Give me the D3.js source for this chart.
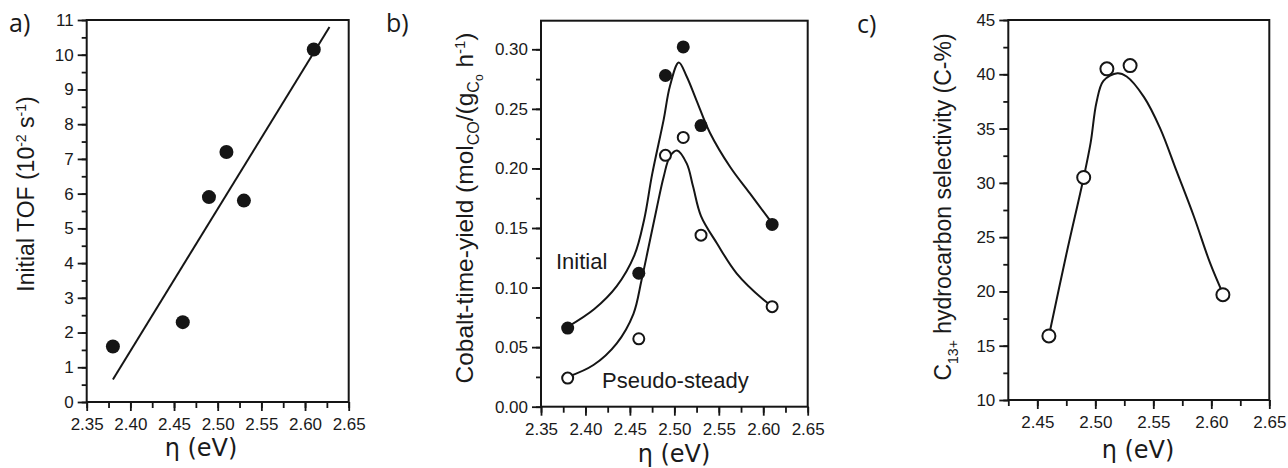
<!DOCTYPE html>
<html>
<head>
<meta charset="utf-8">
<title>TOF, cobalt-time-yield and C13+ selectivity vs eta</title>
<script src="https://d3js.org/d3.v7.min.js"></script>
<style>
body { margin: 0; background: #fff; }
svg text { font-family: Arial, "Liberation Sans", Helvetica, sans-serif; fill: #1a1a1a; }
.xtitle { font-family: "DejaVu Sans", Verdana, sans-serif; font-size: 24px; }
.plabel { font-family: "Open Sans", sans-serif; font-size: 25px; }
.note { font-size: 22px; }
</style>
</head>
<body>
<svg id="chart" width="1288" height="468"></svg>
<script>
// ---- panel a : initial TOF ----
var etaA = [2.38, 2.46, 2.49, 2.51, 2.53, 2.61];
var tofA = [1.6, 2.3, 5.9, 7.2, 5.8, 10.15];
var fitEtaA = [2.38, 2.628];
var fitTofA = [0.65, 10.8];
var xTicksA = [2.35, 2.40, 2.45, 2.50, 2.55, 2.60, 2.65];
var yTicksA = [0, 1, 2, 3, 4, 5, 6, 7, 8, 9, 10, 11];

// ---- panel b : cobalt-time-yield ----
var etaB = [2.38, 2.46, 2.49, 2.51, 2.53, 2.61];
var ctyInitial = [0.066, 0.112, 0.278, 0.302, 0.236, 0.153];
var ctyPseudo = [0.024, 0.057, 0.211, 0.226, 0.144, 0.084];
var curveEtaInitial = [2.38, 2.41, 2.435, 2.455, 2.466, 2.475, 2.488, 2.495, 2.505, 2.514, 2.525, 2.54, 2.563, 2.585, 2.607];
var curveInitial    = [0.067, 0.082, 0.101, 0.127, 0.157, 0.195, 0.241, 0.269, 0.289, 0.277, 0.257, 0.230, 0.201, 0.179, 0.157];
var curveEtaPseudo = [2.38, 2.409, 2.435, 2.454, 2.463, 2.471, 2.48, 2.488, 2.495, 2.503, 2.514, 2.521, 2.53, 2.548, 2.57, 2.60, 2.609];
var curvePseudo    = [0.025, 0.035, 0.053, 0.078, 0.106, 0.134, 0.166, 0.193, 0.210, 0.215, 0.204, 0.185, 0.160, 0.137, 0.112, 0.090, 0.085];
var xTicksB = [2.35, 2.40, 2.45, 2.50, 2.55, 2.60, 2.65];
var yTicksB = [0.00, 0.05, 0.10, 0.15, 0.20, 0.25, 0.30];

// ---- panel c : C13+ selectivity ----
var etaC = [2.46, 2.49, 2.51, 2.53, 2.61];
var selC = [15.9, 30.5, 40.5, 40.8, 19.7];
var curveEtaC = [2.46, 2.475, 2.49, 2.496, 2.501, 2.507, 2.519, 2.527, 2.542, 2.556, 2.570, 2.585, 2.599, 2.61];
var curveSelC = [15.9, 23.4, 30.5, 33.7, 37.4, 39.4, 40.1, 39.8, 37.9, 35.0, 31.1, 26.9, 22.6, 19.8];
var xTicksC = [2.45, 2.50, 2.55, 2.60, 2.65];
var yTicksC = [10, 15, 20, 25, 30, 35, 40, 45];

var ink = "#151515";
var tickFont = 'Arial, "Liberation Sans", Helvetica, sans-serif';
var svg = d3.select("#chart");

function zip(xs, ys) { return xs.map(function (x, i) { return [x, ys[i]]; }); }

// writes text with sub/superscript pieces: [string, shift(px, +down), size]
function richText(g, parts) {
  var cur = 0;
  parts.forEach(function (p) {
    var shift = p[1] || 0;
    g.append("tspan")
      .attr("dy", shift - cur)
      .style("font-size", p[2] ? p[2] + "px" : null)
      .text(p[0]);
    cur = shift;
  });
}

function styleAxis(a) {
  a.select(".domain").remove();
  a.attr("font-size", 17).attr("font-family", tickFont);
}

function panel(cfg) {
  var x = d3.scaleLinear().domain(cfg.xDomain).range([cfg.left, cfg.right]);
  var y = d3.scaleLinear().domain(cfg.yDomain).range([cfg.bottom, cfg.top]);
  var g = svg.append("g");

  // minor ticks
  g.append("g").attr("transform", "translate(0," + cfg.bottom + ")")
    .call(d3.axisBottom(x).tickValues(cfg.xMinor).tickSize(6).tickFormat(""))
    .call(styleAxis);
  g.append("g").attr("transform", "translate(" + cfg.left + ",0)")
    .call(d3.axisLeft(y).tickValues(cfg.yMinor).tickSize(5).tickFormat(""))
    .call(styleAxis);

  // major ticks with labels
  g.append("g").attr("transform", "translate(0," + cfg.bottom + ")")
    .call(d3.axisBottom(x).tickValues(cfg.xTicks).tickSize(9).tickPadding(7).tickFormat(d3.format(".2f")))
    .call(styleAxis);
  g.append("g").attr("transform", "translate(" + cfg.left + ",0)")
    .call(d3.axisLeft(y).tickValues(cfg.yTicks).tickSize(9).tickPadding(cfg.yPad).tickFormat(d3.format(cfg.yFmt)))
    .call(styleAxis);

  g.selectAll(".tick line").attr("stroke", ink).attr("stroke-width", 1.8);
  g.selectAll(".tick text").attr("fill", "#1a1a1a");

  // frame
  g.append("rect")
    .attr("x", cfg.left).attr("y", cfg.top)
    .attr("width", cfg.right - cfg.left).attr("height", cfg.bottom - cfg.top)
    .attr("fill", "none").attr("stroke", ink).attr("stroke-width", 2);

  // x title
  g.append("text").attr("class", "xtitle")
    .attr("x", cfg.xTitleX).attr("y", cfg.xTitleY)
    .attr("text-anchor", "middle").text("η (eV)");

  // y title
  var yt = g.append("text")
    .attr("text-anchor", "middle")
    .style("font-size", cfg.yTitleSize + "px")
    .attr("transform", "translate(" + cfg.yTitleX + "," + cfg.yTitleY + ") rotate(-90)");
  richText(yt, cfg.yTitle);

  // panel letter
  g.append("text").attr("class", "plabel")
    .attr("x", cfg.labelX).attr("y", cfg.labelY).text(cfg.label);

  return { g: g, x: x, y: y };
}

function minorTicks(a, b, s) {
  return d3.range(0, Math.round((b - a) / s) + 1).map(function (i) { return +(a + i * s).toFixed(4); });
}

// ---------- a ----------
var pa = panel({
  left: 86.7, right: 348.7, top: 20, bottom: 402,
  xDomain: [2.35, 2.65], yDomain: [0, 11],
  xTicks: xTicksA, yTicks: yTicksA,
  xMinor: minorTicks(2.35, 2.65, 0.025), yMinor: minorTicks(0, 11, 0.5),
  yFmt: "d", yPad: 4,
  xTitleX: 201, xTitleY: 456,
  yTitleX: 34, yTitleY: 194, yTitleSize: 23,
  yTitle: [["Initial TOF (10"], ["-2", -8, 14], [" s", 0], ["-1", -8, 14], [")", 0]],
  label: "a)", labelX: 9, labelY: 32
});
var lineFn = function (sx, sy) {
  return d3.line().x(function (d) { return sx(d[0]); }).y(function (d) { return sy(d[1]); });
};
pa.g.append("path").datum(zip(fitEtaA, fitTofA))
  .attr("d", lineFn(pa.x, pa.y))
  .attr("fill", "none").attr("stroke", ink).attr("stroke-width", 2);
pa.g.selectAll(".dotA").data(zip(etaA, tofA)).enter().append("circle")
  .attr("cx", function (d) { return pa.x(d[0]); })
  .attr("cy", function (d) { return pa.y(d[1]); })
  .attr("r", 7).attr("fill", ink);

// ---------- b ----------
var pb = panel({
  left: 541, right: 807.7, top: 20.7, bottom: 406.7,
  xDomain: [2.35, 2.65], yDomain: [0, 0.324],
  xTicks: xTicksB, yTicks: yTicksB,
  xMinor: minorTicks(2.35, 2.65, 0.025), yMinor: minorTicks(0, 0.3, 0.025),
  yFmt: ".2f", yPad: 4,
  xTitleX: 674, xTitleY: 462,
  yTitleX: 473, yTitleY: 208, yTitleSize: 24.5,
  yTitle: [["Cobalt-time-yield (mol"], ["CO", 6, 16], ["/(g", 0], ["C", 6, 16], ["o", 10, 12], [" h", 0], ["-1", -8, 15], [")", 0]],
  label: "b)", labelX: 386, labelY: 32
});
var smooth = function (sx, sy) { return lineFn(sx, sy).curve(d3.curveCatmullRom.alpha(0.5)); };
pb.g.append("path").datum(zip(curveEtaInitial, curveInitial))
  .attr("d", smooth(pb.x, pb.y))
  .attr("fill", "none").attr("stroke", ink).attr("stroke-width", 2);
pb.g.append("path").datum(zip(curveEtaPseudo, curvePseudo))
  .attr("d", smooth(pb.x, pb.y))
  .attr("fill", "none").attr("stroke", ink).attr("stroke-width", 2);
pb.g.selectAll(".dotBi").data(zip(etaB, ctyInitial)).enter().append("circle")
  .attr("cx", function (d) { return pb.x(d[0]); })
  .attr("cy", function (d) { return pb.y(d[1]); })
  .attr("r", 6.5).attr("fill", ink);
pb.g.selectAll(".dotBp").data(zip(etaB, ctyPseudo)).enter().append("circle")
  .attr("cx", function (d) { return pb.x(d[0]); })
  .attr("cy", function (d) { return pb.y(d[1]); })
  .attr("r", 5.5).attr("fill", "#fff").attr("stroke", ink).attr("stroke-width", 2);
pb.g.append("text").attr("class", "note").attr("x", 556).attr("y", 269).text("Initial");
pb.g.append("text").attr("class", "note").attr("x", 602).attr("y", 388).text("Pseudo-steady");

// ---------- c ----------
var pc = panel({
  left: 1008.3, right: 1269.3, top: 20, bottom: 400,
  xDomain: [2.425, 2.65], yDomain: [10, 45],
  xTicks: xTicksC, yTicks: yTicksC,
  xMinor: minorTicks(2.425, 2.65, 0.025), yMinor: minorTicks(10, 45, 2.5),
  yFmt: "d", yPad: 4,
  xTitleX: 1138, xTitleY: 458,
  yTitleX: 951, yTitleY: 207, yTitleSize: 23,
  yTitle: [["C"], ["13+", 7, 14], [" hydrocarbon selectivity  (C-%)", 0]],
  label: "c)", labelX: 857, labelY: 33
});
pc.g.append("path").datum(zip(curveEtaC, curveSelC))
  .attr("d", smooth(pc.x, pc.y))
  .attr("fill", "none").attr("stroke", ink).attr("stroke-width", 2);
pc.g.selectAll(".dotC").data(zip(etaC, selC)).enter().append("circle")
  .attr("cx", function (d) { return pc.x(d[0]); })
  .attr("cy", function (d) { return pc.y(d[1]); })
  .attr("r", 6.5).attr("fill", "#fff").attr("stroke", ink).attr("stroke-width", 2);
</script>
</body>
</html>
